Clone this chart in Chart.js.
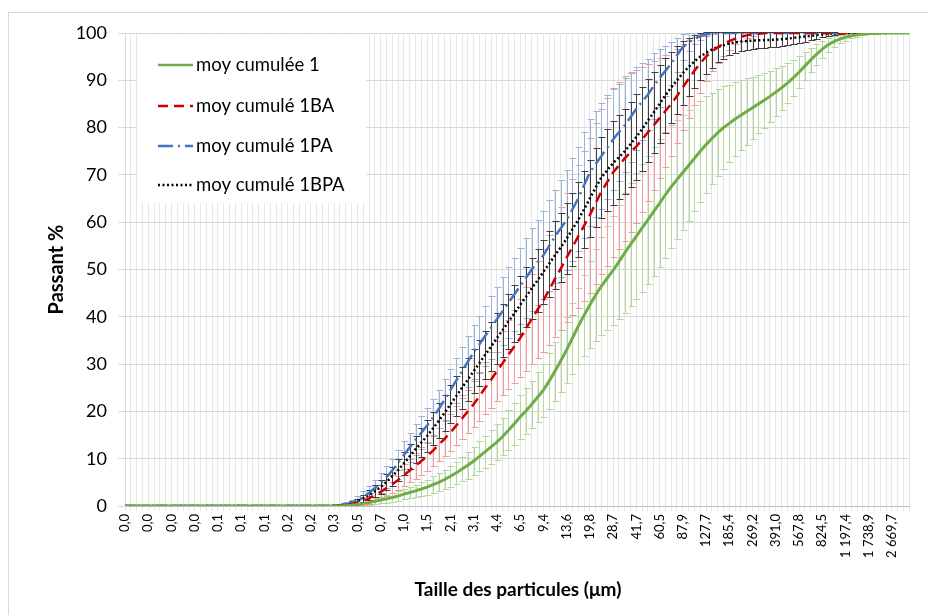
<!DOCTYPE html>
<html>
<head>
<meta charset="utf-8">
<script src="https://cdn.jsdelivr.net/npm/chart.js@4.4.1/dist/chart.umd.min.js"></script>
<style>
  html, body { margin: 0; padding: 0; background: #fff; }
  #wrap { width: 928px; height: 615px; position: relative; }
</style>
</head>
<body>
<div id="wrap"><canvas id="myChart" width="928" height="615"></canvas></div>
<script>
// etiquettes de l'axe x (une toutes les 4 classes)
const tickLabels = ["0,0","0,0","0,0","0,0","0,1","0,1","0,1","0,2","0,2","0,3","0,5","0,7","1,0","1,5","2,1","3,1","4,4","6,5","9,4","13,6","19,8","28,7","41,7","60,5","87,9","127,7","185,4","269,2","391,0","567,8","824,5","1 197,4","1 738,9","2 669,7"];
const labelStep = 4;

const seriesNames = ["moy cumulée 1", "moy cumulé 1BA", "moy cumulé 1PA", "moy cumulé 1BPA"];

// moy cumulée 1
const moy1 = [0,0,0,0,0,0,0,0,0,0,0,0,0,0,0,0,0,0,0,0,0,0,0,0,0,0,0,0,0,0,0,0,0,0,0,0,0,0,
  0.05,0.15,0.3,0.5,0.75,1.0,1.25,1.5,1.8,2.1,2.5,2.85,3.2,3.6,4.0,4.5,5.0,5.6,6.3,7.0,7.8,8.6,
  9.5,10.5,11.5,12.5,13.5,14.7,16.0,17.4,18.8,20.1,21.5,23.0,24.5,26.4,28.5,30.7,33.0,35.5,38.0,40.3,
  42.5,44.6,46.5,48.2,49.8,51.6,53.5,55.3,57.0,58.8,60.5,62.3,64.0,65.8,67.5,69.0,70.5,72.0,73.5,75.0,
  76.4,77.7,78.9,80.0,80.9,81.8,82.6,83.4,84.2,85.0,85.8,86.6,87.5,88.4,89.4,90.5,91.7,93.0,94.3,95.5,
  96.6,97.5,98.2,98.7,99.1,99.4,99.6,99.8,99.9,99.95,100,100,100,100,100,100];
const moy1Err = [0,0,0,0,0,0,0,0,0,0,0,0,0,0,0,0,0,0,0,0,0,0,0,0,0,0,0,0,0,0,0,0,0,0,0,0,0,0,
  0.1,0.2,0.3,0.4,0.5,0.6,0.7,0.8,0.9,1.0,1.1,1.2,1.3,1.45,1.6,1.75,1.9,2.05,2.2,2.4,2.6,2.8,
  3.0,3.2,3.4,3.6,3.8,4.0,4.2,4.4,4.6,4.8,5.0,5.3,5.6,5.9,6.2,6.6,7.0,7.5,8.0,8.6,
  9.2,9.8,10.4,11.0,11.6,12.1,12.6,13.0,13.3,13.5,13.6,13.6,13.5,13.3,13.0,12.6,12.2,11.7,11.2,10.7,
  10.2,9.7,9.2,8.7,8.2,7.8,7.4,7.0,6.6,6.2,5.8,5.4,5.0,4.6,4.2,3.8,3.4,3.0,2.6,2.2,
  1.8,1.5,1.2,0.9,0.7,0.5,0.35,0.25,0.15,0.1,0,0,0,0,0,0];

// moy cumulé 1BA
const moy1BA = [0,0,0,0,0,0,0,0,0,0,0,0,0,0,0,0,0,0,0,0,0,0,0,0,0,0,0,0,0,0,0,0,0,0,0,0,
  0.05,0.1,0.2,0.4,0.7,1.1,1.6,2.3,3.0,3.8,4.6,5.5,6.5,7.5,8.5,9.5,10.5,11.7,13.0,14.2,
  15.5,17.0,18.5,20.0,21.5,23.2,25.0,26.7,28.5,30.2,32.0,33.7,35.5,37.5,39.5,41.5,43.5,45.7,48.0,50.2,
  52.5,54.7,57.0,59.2,61.5,64.0,66.5,68.5,70.5,72.0,73.5,74.8,76.0,77.5,79.0,80.5,82.0,83.5,85.0,86.7,
  88.5,90.3,92.0,93.6,95.0,96.1,97.0,97.7,98.3,98.8,99.2,99.5,99.7,99.85,100,100,100,100,100,100,
  100,100,100,100,100,100,100,100,100,100,100,100,100,100,100,100];
const moy1BAErr = [0,0,0,0,0,0,0,0,0,0,0,0,0,0,0,0,0,0,0,0,0,0,0,0,0,0,0,0,0,0,0,0,0,0,0,0,
  0.1,0.2,0.3,0.5,0.7,0.9,1.1,1.3,1.5,1.7,1.9,2.1,2.3,2.5,2.7,2.9,3.1,3.3,3.5,3.7,
  3.9,4.1,4.3,4.6,4.9,5.2,5.5,5.9,6.3,6.8,7.3,7.8,8.3,8.9,9.5,10.2,10.9,11.6,12.3,13.0,
  13.7,14.4,15.1,15.8,16.4,17.0,17.4,17.7,17.8,17.7,17.4,16.9,16.2,15.4,14.5,13.6,12.7,11.8,10.9,10.0,
  9.1,8.2,7.2,6.2,5.2,4.2,3.3,2.5,1.8,1.2,0.8,0.5,0.3,0.15,0,0,0,0,0,0,
  0,0,0,0,0,0,0,0,0,0,0,0,0,0,0,0];

// moy cumulé 1PA
const moy1PA = [0,0,0,0,0,0,0,0,0,0,0,0,0,0,0,0,0,0,0,0,0,0,0,0,0,0,0,0,0,0,0,0,0,0,0,0,
  0.1,0.2,0.4,0.7,1.2,1.9,2.8,3.8,4.8,6.1,7.5,9.1,10.8,12.4,14.0,15.5,17.0,18.7,20.5,22.5,
  24.5,26.5,28.5,30.5,32.5,34.2,36.0,37.7,39.5,41.2,43.0,44.7,46.5,48.2,50.0,51.5,53.0,55.0,57.0,58.7,
  60.5,62.7,65.0,67.8,70.5,72.3,74.0,75.8,77.5,79.0,80.5,82.2,84.0,85.5,87.0,88.8,90.5,92.0,93.5,95.3,
  97.0,98.0,98.8,99.3,99.7,99.9,100,100,100,100,100,100,100,100,100,100,100,100,100,100,
  100,100,100,100,100,100,100,100,100,100,100,100,100,100,100,100];
const moy1PAErr = [0,0,0,0,0,0,0,0,0,0,0,0,0,0,0,0,0,0,0,0,0,0,0,0,0,0,0,0,0,0,0,0,0,0,0,0,
  0.1,0.2,0.4,0.6,0.9,1.2,1.5,1.8,2.1,2.3,2.5,2.7,2.9,3.1,3.3,3.5,3.7,3.9,4.1,4.3,
  4.5,4.8,5.1,5.4,5.7,6.0,6.3,6.6,6.9,7.2,7.5,7.8,8.1,8.4,8.7,9.0,9.3,9.6,9.9,10.2,
  10.5,10.8,11.0,11.2,11.3,11.3,11.2,11.0,10.7,10.3,9.9,9.4,8.8,8.2,7.6,6.9,6.1,5.3,4.5,3.6,
  2.7,1.9,1.2,0.8,0.4,0.2,0,0,0,0,0,0,0,0,0,0,0,0,0,0,
  0,0,0,0,0,0,0,0,0,0,0,0,0,0,0,0];

// moy cumulé 1BPA
const moy1BPA = [0,0,0,0,0,0,0,0,0,0,0,0,0,0,0,0,0,0,0,0,0,0,0,0,0,0,0,0,0,0,0,0,0,0,0,0,
  0.1,0.2,0.3,0.6,1.0,1.6,2.3,3.1,4.0,5.1,6.3,7.6,9.0,10.5,12.0,13.4,14.8,16.4,18.0,19.7,
  21.5,23.2,25.0,26.7,28.5,30.2,32.0,33.7,35.5,37.2,39.0,40.7,42.5,44.2,46.0,47.7,49.5,51.2,53.0,54.7,
  56.5,58.5,60.5,62.7,65.0,67.3,69.5,71.0,72.5,73.7,75.0,76.5,78.0,79.7,81.5,83.2,85.0,86.8,88.5,90.0,
  91.5,92.8,94.0,95.0,95.8,96.5,97.0,97.4,97.8,98.0,98.2,98.3,98.4,98.45,98.5,98.55,98.6,98.7,98.8,98.95,
  99.1,99.25,99.4,99.55,99.7,99.8,99.9,99.95,100,100,100,100,100,100,100,100];
const moy1BPAErr = [0,0,0,0,0,0,0,0,0,0,0,0,0,0,0,0,0,0,0,0,0,0,0,0,0,0,0,0,0,0,0,0,0,0,0,0,
  0.1,0.2,0.3,0.4,0.5,0.75,1.0,1.25,1.5,1.75,2.0,2.25,2.5,2.7,2.9,3.1,3.3,3.5,3.7,3.85,
  4.0,4.2,4.4,4.55,4.7,4.9,5.1,5.25,5.4,5.6,5.8,5.95,6.1,6.3,6.5,6.65,6.8,7.0,7.2,7.35,
  7.5,7.7,7.9,8.05,8.2,8.4,8.6,8.7,8.8,8.9,9.0,9.0,9.0,8.9,8.7,8.5,8.2,7.9,7.5,7.2,
  6.8,6.2,5.6,5.0,4.4,3.8,3.2,2.8,2.5,2.2,2.0,1.9,1.8,1.7,1.7,1.6,1.6,1.5,1.4,1.3,
  1.2,1.05,0.9,0.75,0.6,0.45,0.3,0.15,0,0,0,0,0,0,0,0];

const categories = moy1.map((v, i) => i % labelStep === 0 ? (tickLabels[i / labelStep] || "") : "");

const couleurs = ["#70ad47", "#d00000", "#4472c4", "#000000"];
const couleursErreur = ["#b4d89c", "#f29a9a", "#98b2e2", "#3f3f3f"];
const tirets = [[], [10, 6], [15, 5, 2, 5], [2, 2.5]];

const donnees = [moy1, moy1BA, moy1PA, moy1BPA];
const erreurs = [moy1Err, moy1BAErr, moy1PAErr, moy1BPAErr];

const FONT = "Lato, 'Open Sans', sans-serif";

const cadre = {
  id: "cadre",
  beforeDraw(chart) {
    const ctx = chart.ctx;
    ctx.save();
    ctx.fillStyle = "#fff";
    ctx.fillRect(0, 0, chart.width, chart.height);
    ctx.strokeStyle = "#d9d9d9";
    ctx.lineWidth = 1;
    ctx.strokeRect(8.5, 12.5, 940, 640);
    ctx.restore();
  }
};

const barresErreur = {
  id: "barresErreur",
  beforeDatasetsDraw(chart) {
    const { ctx, chartArea, scales } = chart;
    ctx.save();
    ctx.beginPath();
    ctx.rect(chartArea.left, chartArea.top - 1, chartArea.right - chartArea.left, chartArea.bottom - chartArea.top + 1);
    ctx.clip();
    ctx.lineWidth = 1;
    chart.data.datasets.forEach((ds) => {
      ctx.strokeStyle = ds.errorColor;
      ds.data.forEach((v, i) => {
        const e = ds.errors[i];
        if (!e) return;
        const px = Math.round(scales.x.getPixelForValue(i)) + 0.5;
        const haut = Math.round(scales.y.getPixelForValue(v + e)) + 0.5;
        const bas = Math.round(scales.y.getPixelForValue(v - e)) + 0.5;
        ctx.beginPath();
        ctx.moveTo(px, haut); ctx.lineTo(px, bas);
        ctx.moveTo(px - 3, haut); ctx.lineTo(px + 4, haut);
        ctx.moveTo(px - 3, bas); ctx.lineTo(px + 4, bas);
        ctx.stroke();
      });
    });
    ctx.restore();
  }
};

const legendeEtTitres = {
  id: "legendeEtTitres",
  afterDatasetsDraw(chart) {
    const { ctx, chartArea } = chart;
    ctx.save();
    // légende à l'intérieur du graphique
    ctx.fillStyle = "#fff";
    ctx.fillRect(137, 35, 229, 168);
    const lignes = [65, 106, 146, 185];
    seriesNames.forEach((nom, k) => {
      ctx.strokeStyle = couleurs[k];
      ctx.lineWidth = 2.5;
      ctx.setLineDash(tirets[k]);
      ctx.beginPath();
      ctx.moveTo(158, lignes[k]);
      ctx.lineTo(193, lignes[k]);
      ctx.stroke();
      ctx.setLineDash([]);
      ctx.fillStyle = "#000";
      ctx.font = "18.5px " + FONT;
      ctx.textBaseline = "middle";
      ctx.textAlign = "left";
      ctx.fillText(nom, 196, lignes[k]);
    });
    // titres des axes
    ctx.fillStyle = "#000";
    ctx.font = "bold 19px " + FONT;
    ctx.textAlign = "center";
    ctx.textBaseline = "middle";
    ctx.fillText("Taille des particules (μm)", 518, 590);
    ctx.font = "bold 20px " + FONT;
    ctx.translate(57, (chartArea.top + chartArea.bottom) / 2);
    ctx.rotate(-Math.PI / 2);
    ctx.fillText("Passant %", 0, 0);
    ctx.restore();
  }
};

const datasets = donnees.map((d, k) => ({
  label: seriesNames[k],
  data: d,
  errors: erreurs[k],
  errorColor: couleursErreur[k],
  borderColor: couleurs[k],
  borderWidth: k === 0 ? 3 : 2.5,
  borderDash: tirets[k],
  pointRadius: 0,
  fill: false,
  tension: 0
}));

new Chart(document.querySelector("#myChart"), {
  type: "line",
  data: { labels: categories, datasets: datasets },
  options: {
    responsive: false,
    animation: false,
    layout: { padding: { top: 33, right: 6, left: 0, bottom: 0 } },
    plugins: { legend: { display: false }, tooltip: { enabled: false } },
    scales: {
      x: {
        offset: false,
        grid: { color: "#e6e6e6", tickLength: 5 },
        border: { color: "#bfbfbf" },
        ticks: {
          autoSkip: false, maxRotation: 90, minRotation: 90, padding: 3,
          color: "#000", font: { family: FONT, size: 13 }
        },
        afterFit(s) { s.height = 109; }
      },
      y: {
        min: 0, max: 100,
        grid: { color: "#d9d9d9", tickLength: 7 },
        border: { color: "#d9d9d9" },
        ticks: { stepSize: 10, padding: 11, color: "#000", font: { family: FONT, size: 18 } },
        afterFit(s) { s.width = 125; }
      }
    }
  },
  plugins: [cadre, barresErreur, legendeEtTitres]
});
</script>
</body>
</html>
